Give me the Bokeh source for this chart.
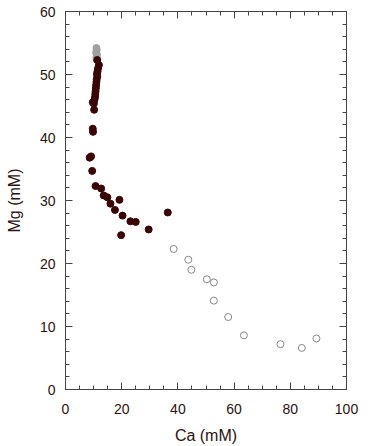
from bokeh.plotting import figure
from bokeh.models import LinearAxis, Range1d, FixedTicker
from bokeh.embed import file_html
from bokeh.resources import INLINE

# grey points (top of cluster)
ca_grey = [11.0, 11.1, 10.9, 11.2, 11.0, 11.1]
mg_grey = [54.2, 53.9, 53.5, 53.1, 52.7, 52.4]

# filled dark points
ca_dark = [11.3, 11.9, 11.6, 11.4, 11.2, 11.3, 11.1, 11.0, 10.9, 10.8, 10.7, 10.6, 10.5, 10.3, 10.1, 9.7, 10.2,
           9.7, 9.8, 8.6, 9.1, 9.5, 10.7, 12.7, 13.6, 14.9, 16.0, 17.6, 19.2, 20.3, 23.1, 25.0, 19.8, 29.6, 36.4]
mg_dark = [52.3, 51.5, 51.0, 50.5, 50.1, 49.7, 49.2, 48.8, 48.3, 47.8, 47.3, 46.9, 46.4, 46.0, 45.4, 45.6, 44.4,
           41.4, 40.9, 36.8, 37.0, 34.7, 32.3, 31.9, 30.8, 30.5, 29.5, 28.5, 30.1, 27.6, 26.7, 26.6, 24.5, 25.4, 28.1]

# open points
ca_open = [38.5, 43.7, 44.8, 50.3, 52.8, 52.8, 57.9, 63.5, 76.5, 84.1, 89.3]
mg_open = [22.3, 20.6, 19.0, 17.5, 17.0, 14.1, 11.5, 8.6, 7.2, 6.6, 8.1]

x_ticks = [0, 20, 40, 60, 80, 100]
y_ticks = [0, 10, 20, 30, 40, 50, 60]

TXT = "#2a1212"
AX = "#444444"

p = figure(width=360, height=446, output_backend="svg", toolbar_location=None,
           x_range=Range1d(0, 100), y_range=Range1d(0, 60),
           min_border_left=65, min_border_right=14, min_border_top=11, min_border_bottom=57,
           x_axis_label="Ca (mM)", y_axis_label="Mg (mM)")
p.grid.visible = False
p.outline_line_color = AX
p.background_fill_color = "white"
p.border_fill_color = "white"

def style(ax, ticks, minor_n, labels=True):
    ax.ticker = FixedTicker(ticks=ticks, minor_ticks=minor_n)
    ax.major_tick_in = 7
    ax.major_tick_out = 0
    ax.minor_tick_in = 4
    ax.minor_tick_out = 0
    ax.axis_line_color = AX
    ax.major_tick_line_color = AX
    ax.minor_tick_line_color = AX
    ax.major_label_text_font = "Liberation Sans"
    ax.major_label_text_font_size = "14px"
    ax.major_label_text_color = TXT
    ax.major_label_standoff = 10
    ax.axis_label_text_font = "Liberation Sans"
    ax.axis_label_text_font_size = "16px"
    ax.axis_label_text_font_style = "normal"
    ax.axis_label_text_color = TXT
    if not labels:
        ax.major_label_overrides = {t: "" for t in ticks}
        ax.major_label_standoff = 0

xminor = list(range(0, 101, 5))
yminor = list(range(0, 61, 2))
style(p.xaxis[0], x_ticks, xminor)
style(p.yaxis[0], y_ticks, yminor)
p.xaxis[0].major_label_standoff = 14
p.xaxis[0].axis_label_standoff = 10
p.yaxis[0].axis_label_standoff = 14

top = LinearAxis()
style(top, x_ticks, xminor, labels=False)
p.add_layout(top, "above")
right = LinearAxis()
style(right, y_ticks, yminor, labels=False)
p.add_layout(right, "right")

p.scatter(ca_open, mg_open, size=7, fill_color="white", line_color="#888888", line_width=1)
p.scatter(ca_grey, mg_grey, size=7, fill_color="#a0a0a0", line_color="#a0a0a0")
p.scatter(ca_dark, mg_dark, size=7, fill_color="#3a0505", line_color="#3a0505")

open("out.html", "w").write(file_html(p, INLINE))
